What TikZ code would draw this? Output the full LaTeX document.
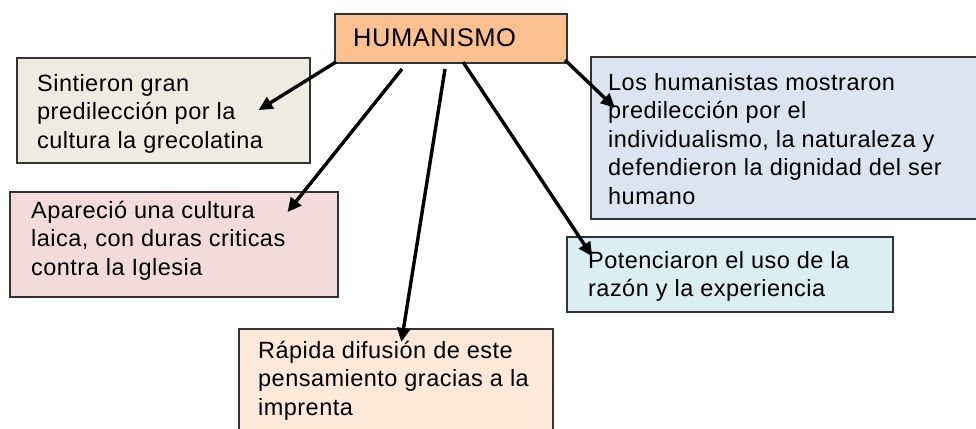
\documentclass[tikz,border=0pt]{standalone}
\usepackage{fontspec}
\setmainfont{Liberation Sans}
\usetikzlibrary{arrows.meta}
\definecolor{cOrange}{HTML}{FAC090}
\definecolor{cBeige}{HTML}{EEECE1}
\definecolor{cBlue}{HTML}{DBE5F1}
\definecolor{cPink}{HTML}{F2DCDB}
\definecolor{cPeach}{HTML}{FDE9D9}
\definecolor{cCyan}{HTML}{DAEEF3}
\tikzset{
  box/.style={draw=black!80, line width=1.3pt},
  txt/.style={anchor=base west, inner sep=0pt, align=left, font=\fontsize{23.5}{28.5}\selectfont\addfontfeatures{LetterSpace=2}},
  conn/.style={line width=3.4pt, -{Triangle[length=14pt,width=13pt]}, shorten >=-4pt}
}
\begin{document}
\begin{tikzpicture}[x=1pt,y=-1pt]
\useasboundingbox (0,0) rectangle (976,428);
\clip (0,0) rectangle (976,428);
% boxes (text nodes anchored at the baseline of their last line)
\path[box, fill=cOrange] (335,14) rectangle (567,63);
\node[txt, font=\fontsize{25.5}{30}\selectfont\addfontfeatures{LetterSpace=2}] (hum) at (353,47) {HUMANISMO};
\path[box, fill=cBeige] (17,58) rectangle (310,163);
\node[txt] (t1) at (37,148) {Sintieron gran\\predilección por la\\cultura la grecolatina};
\path[box, fill=cBlue] (591,57) rectangle (990,219);
\node[txt] (t2) at (608,204) {Los humanistas mostraron\\predilección por el\\individualismo, la naturaleza y\\defendieron la dignidad del ser\\humano};
\path[box, fill=cPink] (10,192) rectangle (338,297);
\node[txt] (t3) at (31,275) {Apareció una cultura\\laica, con duras criticas\\contra la Iglesia};
\path[box, fill=cCyan] (567,237) rectangle (893,312);
\node[txt] (t4) at (588,296.5) {Potenciaron el uso de la\\razón y la experiencia};
\path[box, fill=cPeach] (239,329) rectangle (553,440);
\node[txt] (t5) at (258,415) {Rápida difusión de este\\pensamiento gracias a la\\imprenta};
% connector endpoints
\coordinate (s1) at (336,62);
\coordinate (e1) at (262,108);
\coordinate (s2) at (402,69);
\coordinate (e2) at (290,209);
\coordinate (s3) at (445,69);
\coordinate (e3) at (402,338);
\coordinate (s4) at (463,62);
\coordinate (e4) at (590,253);
\coordinate (s5) at (565,60);
\coordinate (e5) at (612,105);
\draw[conn] (s1) -- (e1);
\draw[conn] (s2) -- (e2);
\draw[conn] (s3) -- (e3);
\draw[conn] (s4) -- (e4);
\draw[conn] (s5) -- (e5);
\end{tikzpicture}
\end{document}
